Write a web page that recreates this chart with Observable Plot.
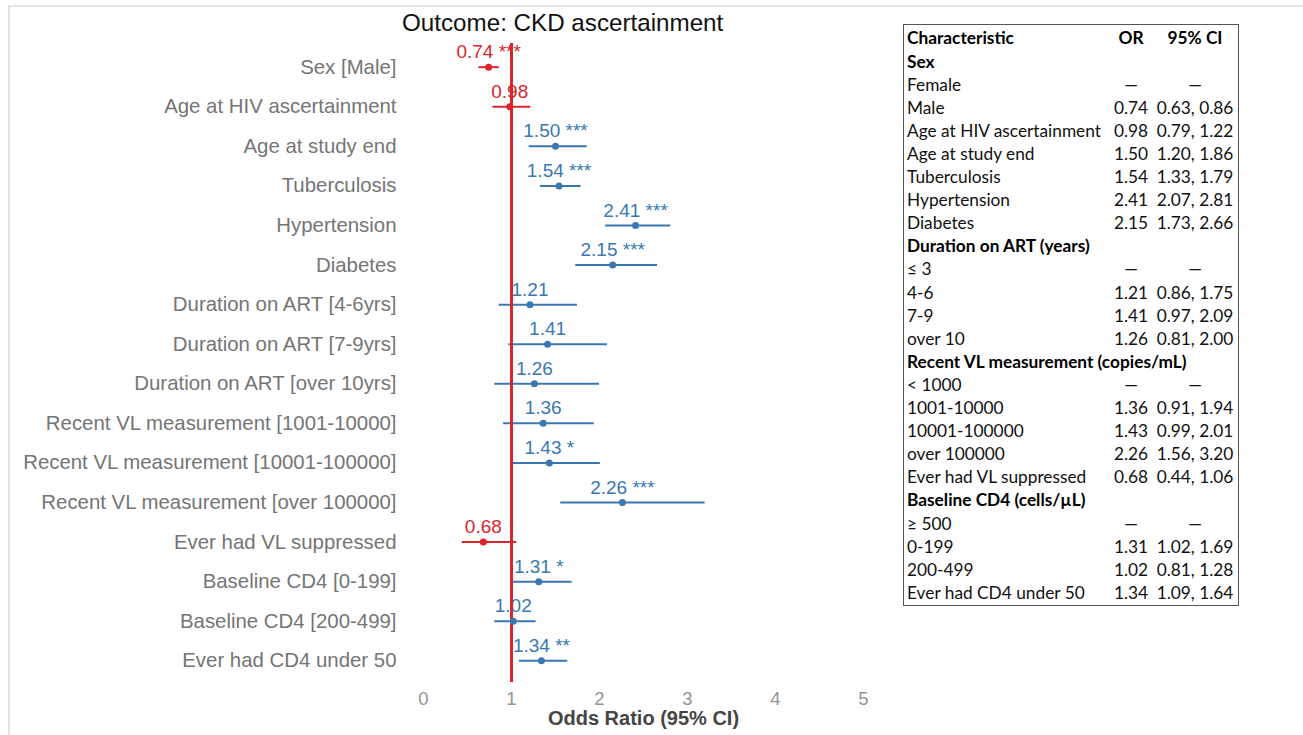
<!DOCTYPE html>
<html>
<head>
<meta charset="utf-8">
<script src="https://cdn.jsdelivr.net/npm/d3@7"></script>
<script src="https://cdn.jsdelivr.net/npm/@observablehq/plot@0.6"></script>
<style>
  html, body { margin: 0; padding: 0; background: #fff; }
  #page { position: relative; width: 1303px; height: 735px; overflow: hidden; font-family: "Liberation Sans", Arial, sans-serif; }
  #topline { position: absolute; left: 8px; top: 5px; width: 1295px; height: 2px; background: #e4e4e4; }
  #leftline { position: absolute; left: 8px; top: 5px; width: 2px; height: 730px; background: #e4e4e4; }
  #title { position: absolute; left: 402px; top: 10.7px; font-size: 24.2px; line-height: 24px; color: #111; white-space: nowrap; }
  #chart { position: absolute; left: 0; top: 0; }
  #table { position: absolute; left: 903px; top: 24px; width: 334px; height: 580px; border: 1px solid #555; font-family: Lato, "Noto Sans", sans-serif; font-size: 17.3px; color: #111; }
  .row { position: absolute; left: 0; height: 23.1px; width: 100%; line-height: 23.1px; white-space: nowrap; }
  .c1 { position: absolute; left: 3px; }
  .c2 { position: absolute; left: 204px; width: 46px; text-align: center; }
  .c3 { position: absolute; left: 246px; width: 90px; text-align: center; }
  .b { font-weight: bold; color: #000; }
</style>
</head>
<body>
<div id="page">
  <div id="topline"></div>
  <div id="leftline"></div>
  <div id="chart"></div>
  <div id="title">Outcome: CKD ascertainment</div>
  <div id="table"></div>
</div>
<script>
// ---- forest plot data ----
const labels = [
  "Sex [Male]", "Age at HIV ascertainment", "Age at study end", "Tuberculosis",
  "Hypertension", "Diabetes", "Duration on ART [4-6yrs]", "Duration on ART [7-9yrs]",
  "Duration on ART [over 10yrs]", "Recent VL measurement [1001-10000]",
  "Recent VL measurement [10001-100000]", "Recent VL measurement [over 100000]",
  "Ever had VL suppressed", "Baseline CD4 [0-199]", "Baseline CD4 [200-499]", "Ever had CD4 under 50"
];
const oddsRatio = [0.74, 0.98, 1.50, 1.54, 2.41, 2.15, 1.21, 1.41, 1.26, 1.36, 1.43, 2.26, 0.68, 1.31, 1.02, 1.34];
const ciLow     = [0.63, 0.79, 1.20, 1.33, 2.07, 1.73, 0.86, 0.97, 0.81, 0.91, 0.99, 1.56, 0.44, 1.02, 0.81, 1.09];
const ciHigh    = [0.86, 1.22, 1.86, 1.79, 2.81, 2.66, 1.75, 2.09, 2.00, 1.94, 2.01, 3.20, 1.06, 1.69, 1.28, 1.64];
const stars     = ["***", "", "***", "***", "***", "***", "", "", "", "", "*", "***", "", "*", "", "**"];
const xTicks = [0, 1, 2, 3, 4, 5];
const xLabel = "Odds Ratio (95% CI)";

// ---- table data ----
const tableHeader = ["Characteristic", "OR", "95% CI"];
const tableChar = ["Sex", "Female", "Male", "Age at HIV ascertainment", "Age at study end", "Tuberculosis",
  "Hypertension", "Diabetes", "Duration on ART (years)", "≤ 3", "4-6", "7-9", "over 10",
  "Recent VL measurement (copies/mL)", "< 1000", "1001-10000", "10001-100000", "over 100000",
  "Ever had VL suppressed", "Baseline CD4 (cells/µL)", "≥ 500", "0-199", "200-499", "Ever had CD4 under 50"];
const tableOR = ["", "—", "0.74", "0.98", "1.50", "1.54", "2.41", "2.15", "", "—", "1.21", "1.41", "1.26",
  "", "—", "1.36", "1.43", "2.26", "0.68", "", "—", "1.31", "1.02", "1.34"];
const tableCI = ["", "—", "0.63, 0.86", "0.79, 1.22", "1.20, 1.86", "1.33, 1.79", "2.07, 2.81", "1.73, 2.66", "",
  "—", "0.86, 1.75", "0.97, 2.09", "0.81, 2.00", "", "—", "0.91, 1.94", "0.99, 2.01", "1.56, 3.20", "0.44, 1.06",
  "", "—", "1.02, 1.69", "0.81, 1.28", "1.09, 1.64"];
const tableGroup = [true, false, false, false, false, false, false, false, true, false, false, false, false,
  true, false, false, false, false, false, true, false, false, false, false];

const RED = "#d9262c";
const BLUE = "#3b78b2";

const data = labels.map((label, i) => ({
  label, or: oddsRatio[i], lo: ciLow[i], hi: ciHigh[i],
  dir: oddsRatio[i] < 1 ? "below" : "above",
  text: oddsRatio[i].toFixed(2) + (stars[i] ? " " + stars[i] : "")
}));

const chart = Plot.plot({
  width: 900,
  height: 735,
  marginLeft: 423,
  marginRight: 37,
  marginTop: 46.9,
  marginBottom: 54.9,
  style: { background: "transparent", fontFamily: "'Liberation Sans', Arial, sans-serif", overflow: "visible" },
  x: { domain: [0, 5] },
  y: { type: "point", domain: labels, padding: 0.5, round: false },
  color: { domain: ["below", "above"], range: [RED, BLUE] },
  marks: [
    Plot.axisY({ tickSize: 0, tickPadding: 27, fontSize: 20.4, color: "#757575", label: null }),
    Plot.axisX({ ticks: xTicks, tickFormat: d3.format("d"), tickSize: 0, tickPadding: 11, fontSize: 18.5, color: "#959595", label: null }),
    Plot.text([xLabel], { text: d => d, frameAnchor: "bottom", dy: 44.5, fontSize: 20, fontWeight: "bold", fill: "#454545" }),
    Plot.ruleY(data, { y: "label", x1: "lo", x2: "hi", stroke: "dir", strokeWidth: 2 }),
    Plot.text(data, { x: "or", y: "label", text: "text", fill: "dir", fontSize: 19, dy: -15, textAnchor: "middle" }),
    Plot.ruleX([1], { stroke: RED, strokeWidth: 3, insetTop: -4, insetBottom: -2 }),
    Plot.dot(data, { x: "or", y: "label", fill: "dir", r: 3.5 })
  ]
});
document.getElementById("chart").appendChild(chart);

// ---- table ----
const tbl = document.getElementById("table");
const rowH = 23.1;
function addRow(i, a, b, c, bold, boldAll) {
  const r = document.createElement("div");
  r.className = "row";
  r.style.top = (1.4 + i * rowH) + "px";
  const s1 = document.createElement("span"); s1.className = "c1" + (bold ? " b" : ""); s1.textContent = a;
  const s2 = document.createElement("span"); s2.className = "c2" + (boldAll ? " b" : ""); s2.textContent = b;
  const s3 = document.createElement("span"); s3.className = "c3" + (boldAll ? " b" : ""); s3.textContent = c;
  r.append(s1, s2, s3);
  tbl.appendChild(r);
}
addRow(0, tableHeader[0], tableHeader[1], tableHeader[2], true, true);
tableChar.forEach((t, i) => addRow(i + 1, t, tableOR[i], tableCI[i], tableGroup[i], false));
</script>
</body>
</html>
